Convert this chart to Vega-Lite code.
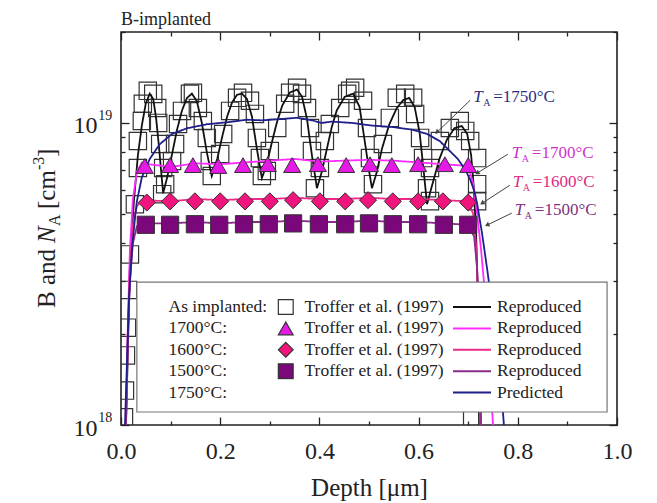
{
"$schema":"https://vega.github.io/schema/vega-lite/v6.json",
"width":496,"height":393,
"autosize":{"type":"none"},
"padding":{"left":121,"top":32,"right":40,"bottom":78},
"background":"white",
"config":{
 "view":{"stroke":"#222","strokeWidth":1.6},
 "font":"Liberation Serif",
 "axis":{"grid":false,"domain":false,"labelFlush":false,"tickColor":"#222","tickWidth":1.3,"labelFont":"Liberation Serif","labelColor":"#222","titleFont":"Liberation Serif","titleColor":"#222","titleFontWeight":"normal"},
 "legend":{"labelFont":"Liberation Serif","labelFontSize":17.5,"labelColor":"#222","orient":"none","padding":0,"rowPadding":3.4,"clipHeight":17}
},
"datasets":{
 "sq":[
  {"s":"As implanted","d":0.006,"v":1.06e18},{"s":"As implanted","d":0.008,"v":1.3e18},{"s":"As implanted","d":0.010,"v":1.7e18},{"s":"As implanted","d":0.012,"v":2.1e18},
  {"s":"As implanted","d":0.014,"v":2.8e18},{"s":"As implanted","d":0.018,"v":3.67e18},{"s":"As implanted","d":0.028,"v":5.38e18},{"s":"As implanted","d":0.034,"v":7.09e18},
  {"s":"As implanted","d":0.034,"v":8.71e18},{"s":"As implanted","d":0.042,"v":1.015e19},{"s":"As implanted","d":0.044,"v":1.157e19},{"s":"As implanted","d":0.054,"v":1.277e19},
  {"s":"As implanted","d":0.065,"v":1.248e19},{"s":"As implanted","d":0.073,"v":1.121e19},{"s":"As implanted","d":0.075,"v":1.0e19},{"s":"As implanted","d":0.079,"v":8.52e18},
  {"s":"As implanted","d":0.083,"v":5.81e18},{"s":"As implanted","d":0.085,"v":7.09e18},{"s":"As implanted","d":0.089,"v":6.27e18},{"s":"As implanted","d":0.103,"v":7.48e18},
  {"s":"As implanted","d":0.109,"v":8.52e18},{"s":"As implanted","d":0.115,"v":9.92e18},{"s":"As implanted","d":0.123,"v":1.096e19},{"s":"As implanted","d":0.139,"v":1.248e19},
  {"s":"As implanted","d":0.145,"v":1.258e19},{"s":"As implanted","d":0.155,"v":1.121e19},{"s":"As implanted","d":0.165,"v":1.015e19},{"s":"As implanted","d":0.173,"v":8.92e18},
  {"s":"As implanted","d":0.179,"v":7.48e18},{"s":"As implanted","d":0.183,"v":6.67e18},{"s":"As implanted","d":0.200,"v":7.89e18},{"s":"As implanted","d":0.206,"v":9.19e18},
  {"s":"As implanted","d":0.220,"v":1.096e19},{"s":"As implanted","d":0.234,"v":1.211e19},{"s":"As implanted","d":0.246,"v":1.258e19},{"s":"As implanted","d":0.260,"v":1.184e19},
  {"s":"As implanted","d":0.270,"v":1.071e19},{"s":"As implanted","d":0.274,"v":8.92e18},{"s":"As implanted","d":0.280,"v":7.65e18},{"s":"As implanted","d":0.284,"v":6.67e18},
  {"s":"As implanted","d":0.294,"v":6.93e18},{"s":"As implanted","d":0.300,"v":8.07e18},{"s":"As implanted","d":0.315,"v":9.625e18},{"s":"As implanted","d":0.331,"v":1.157e19},
  {"s":"As implanted","d":0.341,"v":1.258e19},{"s":"As implanted","d":0.355,"v":1.307e19},{"s":"As implanted","d":0.365,"v":1.248e19},{"s":"As implanted","d":0.375,"v":1.121e19},
  {"s":"As implanted","d":0.381,"v":9.625e18},{"s":"As implanted","d":0.385,"v":8.07e18},{"s":"As implanted","d":0.391,"v":6.08e18},{"s":"As implanted","d":0.401,"v":7.09e18},
  {"s":"As implanted","d":0.411,"v":8.71e18},{"s":"As implanted","d":0.421,"v":9.92e18},{"s":"As implanted","d":0.442,"v":1.121e19},{"s":"As implanted","d":0.456,"v":1.248e19},
  {"s":"As implanted","d":0.462,"v":1.277e19},{"s":"As implanted","d":0.472,"v":1.307e19},{"s":"As implanted","d":0.488,"v":1.184e19},{"s":"As implanted","d":0.496,"v":9.625e18},
  {"s":"As implanted","d":0.502,"v":7.65e18},{"s":"As implanted","d":0.508,"v":6.27e18},{"s":"As implanted","d":0.528,"v":8.52e18},{"s":"As implanted","d":0.542,"v":1.039e19},
  {"s":"As implanted","d":0.556,"v":1.211e19},{"s":"As implanted","d":0.573,"v":1.248e19},{"s":"As implanted","d":0.589,"v":1.211e19},{"s":"As implanted","d":0.593,"v":1.071e19},
  {"s":"As implanted","d":0.603,"v":8.92e18},{"s":"As implanted","d":0.609,"v":7.65e18},{"s":"As implanted","d":0.617,"v":6.08e18},{"s":"As implanted","d":0.623,"v":5.51e18},
  {"s":"As implanted","d":0.623,"v":7.09e18},{"s":"As implanted","d":0.643,"v":8.71e18},{"s":"As implanted","d":0.663,"v":9.625e18},{"s":"As implanted","d":0.683,"v":1.015e19},
  {"s":"As implanted","d":0.694,"v":9.41e18},{"s":"As implanted","d":0.704,"v":8.71e18},{"s":"As implanted","d":0.718,"v":7.65e18},{"s":"As implanted","d":0.718,"v":6.27e18},
  {"s":"As implanted","d":0.718,"v":5.51e18},{"s":"As implanted","d":0.708,"v":1.04e18}
 ],
 "mk":[
  {"s":"1700°C","d":0.048,"v":7.2e18},{"s":"1700°C","d":0.099,"v":7.25e18},{"s":"1700°C","d":0.145,"v":7.25e18},{"s":"1700°C","d":0.196,"v":7.2e18},
  {"s":"1700°C","d":0.246,"v":7.25e18},{"s":"1700°C","d":0.296,"v":7.3e18},{"s":"1700°C","d":0.345,"v":7.25e18},{"s":"1700°C","d":0.397,"v":7.3e18},
  {"s":"1700°C","d":0.454,"v":7.25e18},{"s":"1700°C","d":0.502,"v":7.3e18},{"s":"1700°C","d":0.546,"v":7.25e18},{"s":"1700°C","d":0.599,"v":7.3e18},
  {"s":"1700°C","d":0.653,"v":7.3e18},{"s":"1700°C","d":0.700,"v":7.25e18},
  {"s":"1600°C","d":0.052,"v":5.45e18},{"s":"1600°C","d":0.099,"v":5.5e18},{"s":"1600°C","d":0.149,"v":5.5e18},{"s":"1600°C","d":0.200,"v":5.5e18},
  {"s":"1600°C","d":0.250,"v":5.5e18},{"s":"1600°C","d":0.300,"v":5.5e18},{"s":"1600°C","d":0.347,"v":5.55e18},{"s":"1600°C","d":0.401,"v":5.5e18},
  {"s":"1600°C","d":0.452,"v":5.5e18},{"s":"1600°C","d":0.498,"v":5.55e18},{"s":"1600°C","d":0.548,"v":5.5e18},{"s":"1600°C","d":0.599,"v":5.5e18},
  {"s":"1600°C","d":0.649,"v":5.5e18},{"s":"1600°C","d":0.700,"v":5.45e18},
  {"s":"1500°C","d":0.050,"v":4.6e18},{"s":"1500°C","d":0.099,"v":4.6e18},{"s":"1500°C","d":0.149,"v":4.62e18},{"s":"1500°C","d":0.198,"v":4.6e18},
  {"s":"1500°C","d":0.248,"v":4.62e18},{"s":"1500°C","d":0.298,"v":4.62e18},{"s":"1500°C","d":0.347,"v":4.65e18},{"s":"1500°C","d":0.399,"v":4.62e18},
  {"s":"1500°C","d":0.452,"v":4.62e18},{"s":"1500°C","d":0.500,"v":4.65e18},{"s":"1500°C","d":0.548,"v":4.62e18},{"s":"1500°C","d":0.599,"v":4.62e18},
  {"s":"1500°C","d":0.651,"v":4.6e18},{"s":"1500°C","d":0.700,"v":4.6e18}
 ],
 "ln":[
  {"c":"As implanted","d":0.010,"v":1.0e18},{"c":"As implanted","d":0.014,"v":1.8e18},{"c":"As implanted","d":0.018,"v":3.4e18},{"c":"As implanted","d":0.026,"v":5.5e18},
  {"c":"As implanted","d":0.034,"v":7.8e18},{"c":"As implanted","d":0.042,"v":9.8e18},{"c":"As implanted","d":0.050,"v":1.16e19},{"c":"As implanted","d":0.058,"v":1.25e19},
  {"c":"As implanted","d":0.065,"v":1.2e19},{"c":"As implanted","d":0.071,"v":1.03e19},{"c":"As implanted","d":0.077,"v":8.2e18},{"c":"As implanted","d":0.081,"v":6.9e18},
  {"c":"As implanted","d":0.085,"v":5.85e18},{"c":"As implanted","d":0.093,"v":6.6e18},{"c":"As implanted","d":0.103,"v":7.9e18},{"c":"As implanted","d":0.113,"v":9.5e18},
  {"c":"As implanted","d":0.123,"v":1.1e19},{"c":"As implanted","d":0.133,"v":1.21e19},{"c":"As implanted","d":0.143,"v":1.25e19},{"c":"As implanted","d":0.153,"v":1.18e19},
  {"c":"As implanted","d":0.163,"v":1.0e19},{"c":"As implanted","d":0.173,"v":8.0e18},{"c":"As implanted","d":0.183,"v":6.67e18},{"c":"As implanted","d":0.194,"v":7.6e18},
  {"c":"As implanted","d":0.204,"v":9.0e18},{"c":"As implanted","d":0.214,"v":1.05e19},{"c":"As implanted","d":0.224,"v":1.17e19},{"c":"As implanted","d":0.234,"v":1.24e19},
  {"c":"As implanted","d":0.244,"v":1.25e19},{"c":"As implanted","d":0.254,"v":1.2e19},{"c":"As implanted","d":0.264,"v":1.05e19},{"c":"As implanted","d":0.274,"v":8.2e18},
  {"c":"As implanted","d":0.284,"v":6.57e18},{"c":"As implanted","d":0.294,"v":7.3e18},{"c":"As implanted","d":0.304,"v":8.6e18},{"c":"As implanted","d":0.314,"v":1.0e19},
  {"c":"As implanted","d":0.325,"v":1.14e19},{"c":"As implanted","d":0.340,"v":1.26e19},{"c":"As implanted","d":0.355,"v":1.29e19},{"c":"As implanted","d":0.365,"v":1.22e19},
  {"c":"As implanted","d":0.375,"v":1.03e19},{"c":"As implanted","d":0.385,"v":7.8e18},{"c":"As implanted","d":0.395,"v":6.08e18},{"c":"As implanted","d":0.405,"v":6.9e18},
  {"c":"As implanted","d":0.415,"v":8.2e18},{"c":"As implanted","d":0.425,"v":9.7e18},{"c":"As implanted","d":0.435,"v":1.1e19},{"c":"As implanted","d":0.451,"v":1.22e19},
  {"c":"As implanted","d":0.468,"v":1.25e19},{"c":"As implanted","d":0.481,"v":1.13e19},{"c":"As implanted","d":0.491,"v":8.8e18},{"c":"As implanted","d":0.501,"v":6.8e18},
  {"c":"As implanted","d":0.506,"v":6.08e18},{"c":"As implanted","d":0.516,"v":6.9e18},{"c":"As implanted","d":0.526,"v":8.2e18},{"c":"As implanted","d":0.541,"v":9.9e18},
  {"c":"As implanted","d":0.556,"v":1.12e19},{"c":"As implanted","d":0.569,"v":1.19e19},{"c":"As implanted","d":0.581,"v":1.21e19},{"c":"As implanted","d":0.592,"v":1.13e19},
  {"c":"As implanted","d":0.602,"v":9.3e18},{"c":"As implanted","d":0.610,"v":7.0e18},{"c":"As implanted","d":0.617,"v":5.38e18},{"c":"As implanted","d":0.627,"v":6.2e18},
  {"c":"As implanted","d":0.642,"v":7.6e18},{"c":"As implanted","d":0.657,"v":8.8e18},{"c":"As implanted","d":0.672,"v":9.6e18},{"c":"As implanted","d":0.687,"v":9.77e18},
  {"c":"As implanted","d":0.698,"v":9.2e18},{"c":"As implanted","d":0.706,"v":7.8e18},{"c":"As implanted","d":0.711,"v":6.2e18},{"c":"As implanted","d":0.716,"v":4.3e18},
  {"c":"As implanted","d":0.719,"v":2.8e18},{"c":"As implanted","d":0.722,"v":1.0e18},
  {"c":"1700°C","d":0.010,"v":1.0e18},{"c":"1700°C","d":0.014,"v":2.2e18},{"c":"1700°C","d":0.018,"v":3.8e18},{"c":"1700°C","d":0.024,"v":5.6e18},
  {"c":"1700°C","d":0.032,"v":6.9e18},{"c":"1700°C","d":0.042,"v":7.4e18},{"c":"1700°C","d":0.055,"v":7.3e18},{"c":"1700°C","d":0.100,"v":7.15e18},
  {"c":"1700°C","d":0.150,"v":7.35e18},{"c":"1700°C","d":0.200,"v":7.3e18},{"c":"1700°C","d":0.250,"v":7.4e18},{"c":"1700°C","d":0.300,"v":7.5e18},
  {"c":"1700°C","d":0.350,"v":7.6e18},{"c":"1700°C","d":0.400,"v":7.45e18},{"c":"1700°C","d":0.450,"v":7.5e18},{"c":"1700°C","d":0.500,"v":7.55e18},
  {"c":"1700°C","d":0.550,"v":7.5e18},{"c":"1700°C","d":0.600,"v":7.4e18},{"c":"1700°C","d":0.650,"v":7.3e18},{"c":"1700°C","d":0.700,"v":7.2e18},
  {"c":"1700°C","d":0.710,"v":6.3e18},{"c":"1700°C","d":0.718,"v":5.0e18},{"c":"1700°C","d":0.726,"v":3.8e18},{"c":"1700°C","d":0.734,"v":2.7e18},
  {"c":"1700°C","d":0.742,"v":1.7e18},{"c":"1700°C","d":0.750,"v":1.0e18},
  {"c":"1600°C","d":0.010,"v":1.0e18},{"c":"1600°C","d":0.014,"v":2.1e18},{"c":"1600°C","d":0.018,"v":3.3e18},{"c":"1600°C","d":0.024,"v":4.6e18},
  {"c":"1600°C","d":0.032,"v":5.3e18},{"c":"1600°C","d":0.042,"v":5.55e18},{"c":"1600°C","d":0.100,"v":5.5e18},{"c":"1600°C","d":0.150,"v":5.6e18},
  {"c":"1600°C","d":0.200,"v":5.55e18},{"c":"1600°C","d":0.250,"v":5.6e18},{"c":"1600°C","d":0.300,"v":5.6e18},{"c":"1600°C","d":0.350,"v":5.65e18},
  {"c":"1600°C","d":0.400,"v":5.6e18},{"c":"1600°C","d":0.450,"v":5.6e18},{"c":"1600°C","d":0.500,"v":5.65e18},{"c":"1600°C","d":0.550,"v":5.6e18},
  {"c":"1600°C","d":0.600,"v":5.6e18},{"c":"1600°C","d":0.650,"v":5.55e18},{"c":"1600°C","d":0.700,"v":5.5e18},{"c":"1600°C","d":0.710,"v":5.0e18},
  {"c":"1600°C","d":0.716,"v":3.9e18},{"c":"1600°C","d":0.720,"v":2.6e18},{"c":"1600°C","d":0.724,"v":1.0e18},
  {"c":"1500°C","d":0.010,"v":1.0e18},{"c":"1500°C","d":0.014,"v":2.0e18},{"c":"1500°C","d":0.018,"v":3.0e18},{"c":"1500°C","d":0.024,"v":4.0e18},
  {"c":"1500°C","d":0.032,"v":4.55e18},{"c":"1500°C","d":0.042,"v":4.65e18},{"c":"1500°C","d":0.100,"v":4.65e18},{"c":"1500°C","d":0.150,"v":4.7e18},
  {"c":"1500°C","d":0.200,"v":4.65e18},{"c":"1500°C","d":0.250,"v":4.7e18},{"c":"1500°C","d":0.300,"v":4.7e18},{"c":"1500°C","d":0.350,"v":4.75e18},
  {"c":"1500°C","d":0.400,"v":4.7e18},{"c":"1500°C","d":0.450,"v":4.7e18},{"c":"1500°C","d":0.500,"v":4.75e18},{"c":"1500°C","d":0.550,"v":4.7e18},
  {"c":"1500°C","d":0.600,"v":4.7e18},{"c":"1500°C","d":0.650,"v":4.65e18},{"c":"1500°C","d":0.700,"v":4.6e18},{"c":"1500°C","d":0.712,"v":4.2e18},
  {"c":"1500°C","d":0.718,"v":3.3e18},{"c":"1500°C","d":0.722,"v":2.3e18},{"c":"1500°C","d":0.726,"v":1.0e18},
  {"c":"1750°C","d":0.008,"v":1.0e18},{"c":"1750°C","d":0.012,"v":1.6e18},{"c":"1750°C","d":0.016,"v":2.6e18},{"c":"1750°C","d":0.022,"v":3.8e18},
  {"c":"1750°C","d":0.028,"v":4.8e18},{"c":"1750°C","d":0.032,"v":5.5e18},{"c":"1750°C","d":0.042,"v":6.6e18},{"c":"1750°C","d":0.058,"v":7.6e18},
  {"c":"1750°C","d":0.078,"v":8.5e18},{"c":"1750°C","d":0.103,"v":9.2e18},{"c":"1750°C","d":0.133,"v":9.6e18},{"c":"1750°C","d":0.173,"v":9.9e18},
  {"c":"1750°C","d":0.214,"v":1.005e19},{"c":"1750°C","d":0.254,"v":1.025e19},{"c":"1750°C","d":0.284,"v":1.02e19},{"c":"1750°C","d":0.304,"v":1.025e19},
  {"c":"1750°C","d":0.355,"v":1.04e19},{"c":"1750°C","d":0.385,"v":1.02e19},{"c":"1750°C","d":0.405,"v":1.0e19},{"c":"1750°C","d":0.425,"v":1.01e19},
  {"c":"1750°C","d":0.466,"v":1.0e19},{"c":"1750°C","d":0.506,"v":9.8e18},{"c":"1750°C","d":0.546,"v":9.7e18},{"c":"1750°C","d":0.587,"v":9.5e18},
  {"c":"1750°C","d":0.617,"v":9.2e18},{"c":"1750°C","d":0.643,"v":8.7e18},{"c":"1750°C","d":0.662,"v":8.1e18},{"c":"1750°C","d":0.679,"v":7.6e18},
  {"c":"1750°C","d":0.694,"v":7.0e18},{"c":"1750°C","d":0.704,"v":6.5e18},{"c":"1750°C","d":0.713,"v":5.9e18},{"c":"1750°C","d":0.718,"v":5.4e18},
  {"c":"1750°C","d":0.728,"v":4.3e18},{"c":"1750°C","d":0.738,"v":3.3e18},{"c":"1750°C","d":0.748,"v":2.5e18},{"c":"1750°C","d":0.758,"v":1.85e18},
  {"c":"1750°C","d":0.766,"v":1.35e18},{"c":"1750°C","d":0.772,"v":1.0e18}
 ]
},
"layer":[
 {"data":{"name":"sq"},
  "mark":{"type":"point","filled":true,"opacity":1,"stroke":"#333","strokeWidth":1.2,"clip":true},
  "encoding":{
   "x":{"field":"d","type":"quantitative","scale":{"domain":[0,1],"nice":false,"zero":false,"padding":0},
        "axis":{"orient":"bottom","values":[0,0.1,0.2,0.3,0.4,0.5,0.6,0.7,0.8,0.9,1],
                "labelExpr":"(round(datum.value*10)%2==0) ? format(datum.value,'.1f') : ''",
                "tickSize":{"condition":{"test":"round(datum.value*10)%2==0","value":-8},"value":-4},
                "labelFontSize":24,"labelPadding":22,"title":"Depth [μm]","titleFontSize":25,"titlePadding":12}},
   "y":{"field":"v","type":"quantitative","scale":{"type":"log","domain":[1e18,2e19],"nice":false,"padding":0},
        "axis":{"orient":"left","values":[1e18,2e18,3e18,4e18,5e18,6e18,7e18,8e18,9e18,1e19,2e19],
                "labelExpr":"(datum.value==1e18 || datum.value==1e19) ? '10' : ''",
                "tickSize":{"condition":{"test":"datum.value==1e18 || datum.value==1e19","value":-8},"value":-4},
                "labelFontSize":24,"labelPadding":32,"labelOffset":3,"title":null}},
   "shape":{"field":"s","type":"nominal","scale":{"domain":["As implanted","1700°C","1600°C","1500°C"],"range":["square","triangle-up","diamond","square"]},
            "legend":{"title":null,"legendX":156,"legendY":266.5,"symbolSize":220,"labelOffset":10,"symbolStrokeColor":"#333","symbolStrokeWidth":1.2,"symbolOpacity":1,"labelExpr":"'Troffer et al. (1997)'",
                      "encode":{"symbols":{"update":{"stroke":{"value":"#333"},"strokeWidth":{"value":1.2},"opacity":{"value":1}}}}}},
   "fill":{"field":"s","type":"nominal","scale":{"domain":["As implanted","1700°C","1600°C","1500°C"],"range":["transparent","#e619e6","#f0157d","#7b087b"]},
            "legend":{"title":null,"legendX":156,"legendY":266.5,"symbolSize":220,"labelOffset":10,"symbolStrokeColor":"#333","symbolStrokeWidth":1.2,"symbolOpacity":1,"labelExpr":"'Troffer et al. (1997)'",
                      "encode":{"symbols":{"update":{"stroke":{"value":"#333"},"strokeWidth":{"value":1.2},"opacity":{"value":1}}}}}},
   "size":{"field":"s","type":"nominal","scale":{"domain":["1700°C","1600°C","1500°C","As implanted"],"range":[290,300,200,210]},"legend":null}
  }},
 {"data":{"name":"ln"},
  "transform":[{"calculate":"datum.c + ':'","as":"r"}],
  "mark":{"type":"line","strokeWidth":1.8,"clip":true},
  "encoding":{
   "x":{"field":"d","type":"quantitative",
        "axis":{"orient":"top","values":[0,0.1,0.2,0.3,0.4,0.5,0.6,0.7,0.8,0.9,1],"labels":false,"title":null,
                "tickSize":{"condition":{"test":"round(datum.value*10)%2==0","value":-8},"value":-4}}},
   "y":{"field":"v","type":"quantitative",
        "axis":{"orient":"right","values":[1e18,2e18,3e18,4e18,5e18,6e18,7e18,8e18,9e18,1e19,2e19],"labels":false,"title":null,
                "tickSize":{"condition":{"test":"datum.value==1e18 || datum.value==1e19","value":-8},"value":-4}}},
   "stroke":{"field":"c","type":"nominal","scale":{"domain":["As implanted","1700°C","1600°C","1500°C","1750°C"],"range":["#111111","#ff2cff","#ee2a88","#8b2b8b","#1f1f8a"]},
             "legend":{"title":null,"legendX":331,"legendY":266.5,"symbolType":"stroke","symbolSize":1444,"symbolStrokeWidth":2,"labelOffset":5,
                       "labelExpr":"datum.label == '1750°C' ? 'Predicted' : 'Reproduced'"}},
   "strokeDash":{"field":"r","type":"nominal","scale":{"domain":["As implanted:","1700°C:","1600°C:","1500°C:","1750°C:"],"range":[[1,0],[1,0],[1,0],[1,0],[1,0]]},
             "legend":{"title":null,"legendX":30,"legendY":266.5,"symbolSize":0,"symbolOpacity":0,"symbolStrokeWidth":0,"labelOffset":0}}
  }},
 {"data":{"name":"mk"},
  "mark":{"type":"point","filled":true,"opacity":1,"stroke":"#333","strokeWidth":1,"clip":true},
  "encoding":{
   "x":{"field":"d","type":"quantitative","axis":null},
   "y":{"field":"v","type":"quantitative","axis":null},
   "shape":{"field":"s","type":"nominal","scale":{"domain":["As implanted","1700°C","1600°C","1500°C"],"range":["square","triangle-up","diamond","square"]},
            "legend":{"title":null,"legendX":156,"legendY":266.5,"symbolSize":220,"labelOffset":10,"symbolStrokeColor":"#333","symbolStrokeWidth":1.2,"symbolOpacity":1,"labelExpr":"'Troffer et al. (1997)'",
                      "encode":{"symbols":{"update":{"stroke":{"value":"#333"},"strokeWidth":{"value":1.2},"opacity":{"value":1}}}}}},
   "fill":{"field":"s","type":"nominal","scale":{"domain":["As implanted","1700°C","1600°C","1500°C"],"range":["transparent","#e619e6","#f0157d","#7b087b"]},
            "legend":{"title":null,"legendX":156,"legendY":266.5,"symbolSize":220,"labelOffset":10,"symbolStrokeColor":"#333","symbolStrokeWidth":1.2,"symbolOpacity":1,"labelExpr":"'Troffer et al. (1997)'",
                      "encode":{"symbols":{"update":{"stroke":{"value":"#333"},"strokeWidth":{"value":1.2},"opacity":{"value":1}}}}}},
   "size":{"field":"s","type":"nominal","scale":{"domain":["1700°C","1600°C","1500°C","As implanted"],"range":[290,300,200,210]},"legend":null}
  }},
 {"data":{"values":[{}]},
  "mark":{"type":"rect","fill":"white","stroke":"#777","strokeWidth":1.2},
  "encoding":{"x":{"datum":0.032,"type":"quantitative","axis":null},"x2":{"datum":0.98},
              "y":{"datum":2.97e18,"type":"quantitative","axis":null},"y2":{"datum":1.104e18}}},

 {"data":{"values":[{}]},"mark":{"type":"text","text":"B-implanted","font":"Liberation Serif","fontSize":18,"align":"left","baseline":"alphabetic","color":"#222"},
  "encoding":{"x":{"datum":0,"type":"quantitative","axis":null},"y":{"datum":2.105e19,"type":"quantitative","axis":null}}},

 {"data":{"values":[{}]},"mark":{"type":"rule","stroke":"#444","strokeWidth":1},
  "encoding":{"x":{"datum":0.704,"type":"quantitative","axis":null},"x2":{"datum":0.637},"y":{"datum":1.189e19,"type":"quantitative","axis":null},"y2":{"datum":9.31e18}}},
 {"data":{"values":[{}]},"mark":{"type":"rule","stroke":"#444","strokeWidth":1},
  "encoding":{"x":{"datum":0.780,"type":"quantitative","axis":null},"x2":{"datum":0.718},"y":{"datum":7.88e18,"type":"quantitative","axis":null},"y2":{"datum":6.82e18}}},
 {"data":{"values":[{}]},"mark":{"type":"rule","stroke":"#444","strokeWidth":1},
  "encoding":{"x":{"datum":0.784,"type":"quantitative","axis":null},"x2":{"datum":0.728},"y":{"datum":6.22e18,"type":"quantitative","axis":null},"y2":{"datum":5.42e18}}},
 {"data":{"values":[{}]},"mark":{"type":"rule","stroke":"#444","strokeWidth":1},
  "encoding":{"x":{"datum":0.788,"type":"quantitative","axis":null},"x2":{"datum":0.738},"y":{"datum":5.03e18,"type":"quantitative","axis":null},"y2":{"datum":4.59e18}}},
 {"data":{"values":[{}]},"mark":{"type":"point","shape":"triangle-up","filled":true,"opacity":1,"size":28,"color":"#444","angle":226},
  "encoding":{"x":{"datum":0.637,"type":"quantitative","axis":null},"y":{"datum":9.31e18,"type":"quantitative","axis":null}}},
 {"data":{"values":[{}]},"mark":{"type":"point","shape":"triangle-up","filled":true,"opacity":1,"size":28,"color":"#444","angle":238},
  "encoding":{"x":{"datum":0.718,"type":"quantitative","axis":null},"y":{"datum":6.82e18,"type":"quantitative","axis":null}}},
 {"data":{"values":[{}]},"mark":{"type":"point","shape":"triangle-up","filled":true,"opacity":1,"size":28,"color":"#444","angle":237},
  "encoding":{"x":{"datum":0.728,"type":"quantitative","axis":null},"y":{"datum":5.42e18,"type":"quantitative","axis":null}}},
 {"data":{"values":[{}]},"mark":{"type":"point","shape":"triangle-up","filled":true,"opacity":1,"size":28,"color":"#444","angle":244},
  "encoding":{"x":{"datum":0.738,"type":"quantitative","axis":null},"y":{"datum":4.59e18,"type":"quantitative","axis":null}}},

 {"data":{"values":[{}]},"mark":{"type":"text","text":"T","font":"Liberation Serif","fontSize":17,"fontStyle":"italic","align":"left","baseline":"alphabetic","color":"#2e2e80"},
  "encoding":{"x":{"datum":0.710,"type":"quantitative","axis":null},"y":{"datum":1.171e19,"type":"quantitative","axis":null}}},
 {"data":{"values":[{}]},"mark":{"type":"text","text":"A","font":"Liberation Serif","fontSize":10,"align":"left","baseline":"alphabetic","dx":10,"dy":4,"color":"#2e2e80"},
  "encoding":{"x":{"datum":0.710,"type":"quantitative","axis":null},"y":{"datum":1.171e19,"type":"quantitative","axis":null}}},
 {"data":{"values":[{}]},"mark":{"type":"text","text":"=1750°C","font":"Liberation Serif","fontSize":17,"align":"left","baseline":"alphabetic","dx":20,"color":"#2e2e80"},
  "encoding":{"x":{"datum":0.710,"type":"quantitative","axis":null},"y":{"datum":1.171e19,"type":"quantitative","axis":null}}},

 {"data":{"values":[{}]},"mark":{"type":"text","text":"T","font":"Liberation Serif","fontSize":17,"fontStyle":"italic","align":"left","baseline":"alphabetic","color":"#cc33cc"},
  "encoding":{"x":{"datum":0.788,"type":"quantitative","axis":null},"y":{"datum":7.64e18,"type":"quantitative","axis":null}}},
 {"data":{"values":[{}]},"mark":{"type":"text","text":"A","font":"Liberation Serif","fontSize":10,"align":"left","baseline":"alphabetic","dx":10,"dy":4,"color":"#cc33cc"},
  "encoding":{"x":{"datum":0.788,"type":"quantitative","axis":null},"y":{"datum":7.64e18,"type":"quantitative","axis":null}}},
 {"data":{"values":[{}]},"mark":{"type":"text","text":"=1700°C","font":"Liberation Serif","fontSize":17,"align":"left","baseline":"alphabetic","dx":20,"color":"#cc33cc"},
  "encoding":{"x":{"datum":0.788,"type":"quantitative","axis":null},"y":{"datum":7.64e18,"type":"quantitative","axis":null}}},

 {"data":{"values":[{}]},"mark":{"type":"text","text":"T","font":"Liberation Serif","fontSize":17,"fontStyle":"italic","align":"left","baseline":"alphabetic","color":"#dd2a80"},
  "encoding":{"x":{"datum":0.790,"type":"quantitative","axis":null},"y":{"datum":6.13e18,"type":"quantitative","axis":null}}},
 {"data":{"values":[{}]},"mark":{"type":"text","text":"A","font":"Liberation Serif","fontSize":10,"align":"left","baseline":"alphabetic","dx":10,"dy":4,"color":"#dd2a80"},
  "encoding":{"x":{"datum":0.790,"type":"quantitative","axis":null},"y":{"datum":6.13e18,"type":"quantitative","axis":null}}},
 {"data":{"values":[{}]},"mark":{"type":"text","text":"=1600°C","font":"Liberation Serif","fontSize":17,"align":"left","baseline":"alphabetic","dx":20,"color":"#dd2a80"},
  "encoding":{"x":{"datum":0.790,"type":"quantitative","axis":null},"y":{"datum":6.13e18,"type":"quantitative","axis":null}}},

 {"data":{"values":[{}]},"mark":{"type":"text","text":"T","font":"Liberation Serif","fontSize":17,"fontStyle":"italic","align":"left","baseline":"alphabetic","color":"#803080"},
  "encoding":{"x":{"datum":0.794,"type":"quantitative","axis":null},"y":{"datum":4.95e18,"type":"quantitative","axis":null}}},
 {"data":{"values":[{}]},"mark":{"type":"text","text":"A","font":"Liberation Serif","fontSize":10,"align":"left","baseline":"alphabetic","dx":10,"dy":4,"color":"#803080"},
  "encoding":{"x":{"datum":0.794,"type":"quantitative","axis":null},"y":{"datum":4.95e18,"type":"quantitative","axis":null}}},
 {"data":{"values":[{}]},"mark":{"type":"text","text":"=1500°C","font":"Liberation Serif","fontSize":17,"align":"left","baseline":"alphabetic","dx":20,"color":"#803080"},
  "encoding":{"x":{"datum":0.794,"type":"quantitative","axis":null},"y":{"datum":4.95e18,"type":"quantitative","axis":null}}},

 {"data":{"values":[{}]},"mark":{"type":"text","text":"19","font":"Liberation Serif","fontSize":14,"align":"left","baseline":"middle","dy":-7,"color":"#222"},
  "encoding":{"x":{"datum":-0.046,"type":"quantitative","axis":null},"y":{"datum":1e19,"type":"quantitative","axis":null}}},
 {"data":{"values":[{}]},"mark":{"type":"text","text":"18","font":"Liberation Serif","fontSize":14,"align":"left","baseline":"middle","dy":-7,"color":"#222"},
  "encoding":{"x":{"datum":-0.046,"type":"quantitative","axis":null},"y":{"datum":1e18,"type":"quantitative","axis":null}}},

 {"data":{"values":[{}]},"mark":{"type":"text","text":"B and","font":"Liberation Serif","fontSize":25,"angle":270,"align":"left","baseline":"alphabetic","color":"#222"},
  "encoding":{"x":{"datum":-0.133,"type":"quantitative","axis":null},"y":{"datum":2.44e18,"type":"quantitative","axis":null}}},
 {"data":{"values":[{}]},"mark":{"type":"text","text":"N","font":"Liberation Serif","fontSize":25,"fontStyle":"italic","angle":270,"align":"left","baseline":"alphabetic","dx":65,"color":"#222"},
  "encoding":{"x":{"datum":-0.133,"type":"quantitative","axis":null},"y":{"datum":2.44e18,"type":"quantitative","axis":null}}},
 {"data":{"values":[{}]},"mark":{"type":"text","text":"A","font":"Liberation Serif","fontSize":16,"angle":270,"align":"left","baseline":"alphabetic","dx":82,"dy":5,"color":"#222"},
  "encoding":{"x":{"datum":-0.133,"type":"quantitative","axis":null},"y":{"datum":2.44e18,"type":"quantitative","axis":null}}},
 {"data":{"values":[{}]},"mark":{"type":"text","text":"[cm","font":"Liberation Serif","fontSize":25,"angle":270,"align":"left","baseline":"alphabetic","dx":99,"color":"#222"},
  "encoding":{"x":{"datum":-0.133,"type":"quantitative","axis":null},"y":{"datum":2.44e18,"type":"quantitative","axis":null}}},
 {"data":{"values":[{}]},"mark":{"type":"text","text":"-3","font":"Liberation Serif","fontSize":16,"angle":270,"align":"left","baseline":"alphabetic","dx":138,"dy":-11,"color":"#222"},
  "encoding":{"x":{"datum":-0.133,"type":"quantitative","axis":null},"y":{"datum":2.44e18,"type":"quantitative","axis":null}}},
 {"data":{"values":[{}]},"mark":{"type":"text","text":"]","font":"Liberation Serif","fontSize":25,"angle":270,"align":"left","baseline":"alphabetic","dx":151,"color":"#222"},
  "encoding":{"x":{"datum":-0.133,"type":"quantitative","axis":null},"y":{"datum":2.44e18,"type":"quantitative","axis":null}}}
],
"resolve":{"axis":{"x":"independent","y":"independent"}}
}
